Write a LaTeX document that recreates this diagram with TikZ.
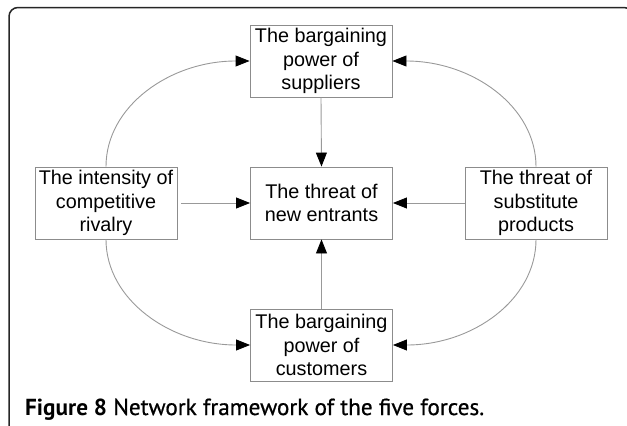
\documentclass[tikz,border=0pt]{standalone}
\usepackage{fontspec}
\setmainfont{Liberation Sans}
\newfontfamily\capfont{PT Sans}
\newfontfamily\capmed{PT Sans}[FakeBold=0.7]
\usetikzlibrary{arrows.meta}
\begin{document}
\begin{tikzpicture}[x=1pt,y=-1pt,
  forcebox/.style={draw=black!45, line width=0.9pt, minimum width=142pt, minimum height=72pt,
    inner sep=0pt, align=center, font=\fontsize{19.8}{23.5}\selectfont},
  link/.style={draw=black!40, line width=0.9pt, -{Triangle[length=14pt,width=11pt,color=black]}},
  frame/.style={draw=black!85, line width=1.5pt, rounded corners=9pt}
]
\useasboundingbox (0,0) rectangle (627,426);
\draw[frame] (9,7.5) rectangle (633,434);

\node[forcebox] (T) at (321,61) {The bargaining\\power of\\suppliers};
\node[forcebox] (C) at (321.5,203) {The threat of\\new entrants};
\node[forcebox] (L) at (106,203) {The intensity of\\competitive\\rivalry};
\node[forcebox] (R) at (536,203) {The threat of\\substitute\\products};
\node[forcebox] (B) at (321.5,345) {The bargaining\\power of\\customers};

\draw[link] (T.south) -- (C.north);
\draw[link] (B.north) -- (C.south);
\draw[link, shorten <=4pt] (L.east) -- (C.west);
\draw[link] (R.west) -- (C.east);

\draw[link] (L.north) .. controls +(0,-60) and +(-80,0) .. (T.west);
\draw[link] (R.north) .. controls +(0,-60) and +(80,0) .. (T.east);
\draw[link] (L.south) .. controls +(0,60) and +(-80,0) .. (B.west);
\draw[link] (R.south) .. controls +(0,60) and +(80,0) .. (B.east);

\node[anchor=base west, inner sep=0pt] (cap) at (25,415)
  {\fontsize{23.2}{27}\selectfont\capfont\textbf{Figure 8} \capmed Network framework of the five forces.};
\end{tikzpicture}
\end{document}
